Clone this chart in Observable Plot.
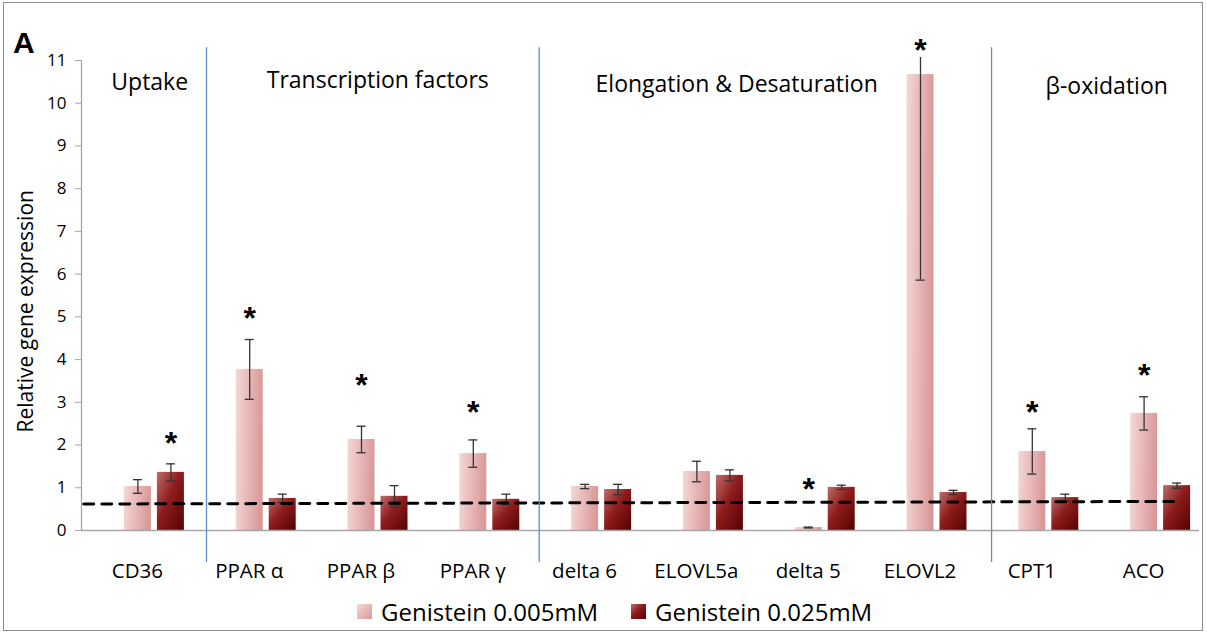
<!DOCTYPE html>
<html><head><meta charset="utf-8">
<script src="https://cdn.jsdelivr.net/npm/d3@7"></script>
<script src="https://cdn.jsdelivr.net/npm/@observablehq/plot@0.6"></script>
<style>
body{margin:0;background:#fff;font-family:"Open Sans",sans-serif;}
#frame{position:absolute;left:3px;top:2px;width:1200px;height:629px;border:1px solid #8c8c8c;box-sizing:border-box;}
#chart{position:absolute;left:0;top:0;}
#panel{position:absolute;left:13px;top:26px;font:bold 30px "Liberation Sans",Arial,sans-serif;color:#000;}
.key{position:absolute;top:595px;display:flex;align-items:center;font-size:24px;color:#000;white-space:nowrap;}
.sw{width:15px;height:15px;margin-right:9px;}
</style></head><body>
<div id="frame"></div>
<div id="chart"></div>
<div id="panel">A</div>
<div id="legend"></div>
<script>
// ---- data ----
const categories = ["CD36","PPAR α","PPAR β","PPAR γ","delta 6","ELOVL5a","delta 5","ELOVL2","CPT1","ACO"];
const series = ["Genistein 0.005mM","Genistein 0.025mM"];
const lowDose = [1.03,3.77,2.13,1.80,1.03,1.38,0.07,10.67,1.85,2.74];
const lowDoseErr = [0.16,0.70,0.31,0.32,0.05,0.24,0.01,4.81,0.53,0.39];
const highDose = [1.36,0.75,0.80,0.73,0.96,1.29,1.01,0.89,0.77,1.05];
const highDoseErr = [0.20,0.10,0.25,0.12,0.12,0.13,0.05,0.05,0.08,0.06];
const starCategory = [0,1,2,3,6,7,8,9];
const starSeries = [1,0,0,0,0,0,0,0];
const starY = [2.2,5.11,3.55,2.93,1.12,11.4,2.93,3.78];
const sections = ["Uptake","Transcription factors","Elongation & Desaturation","β-oxidation"];
const sectionX = [0.61,2.65,5.86,9.17];
const sectionY = [10.49,10.53,10.44,10.39];
const dividerX = [1.118,4.094,8.14];
const refLineX = [0.02,9.785];
const refLineY = [0.62,0.68];
const yTicks = d3.range(0,12);
const yTitle = "Relative gene expression";

// ---- layout ----
const W = 1207, H = 590;
const U = 111.8;               // px per category
const BAR_W = 27/U, CAP = 4.5/U;
const OFF = [-13/U, 20/U];     // bar left edge offset from category center
const colors = ["url(#gLight)","url(#gDark)"];

const rows = [];
categories.forEach((c,i)=>{
  [lowDose, highDose].forEach((arr,s)=>{
    const e = (s===0?lowDoseErr:highDoseErr)[i];
    const x1 = i+0.5+OFF[s];
    rows.push({cat:c, s, v:arr[i], e, x1, x2:x1+BAR_W, xc:x1+BAR_W/2});
  });
});
const stars = starCategory.map((ci,k)=>{
  const x1 = ci+0.5+OFF[starSeries[k]];
  return {x:x1+BAR_W/2, y:starY[k]};
});

const chart = Plot.plot({
  width: W, height: H,
  marginLeft: 81, marginRight: 8, marginTop: 57, marginBottom: H-530,
  style: {fontFamily: '"Open Sans", sans-serif', fontSize: "17px", color:"#000", background:"transparent"},
  x: {domain:[0,10], axis:null},
  y: {domain:[0,11.07], axis:null},
  marks: [
    Plot.rectY(rows, {x1:"x1", x2:"x2", y1:0, y2:"v", fill:d=>d.s===0?colors[0]:colors[1]}),
    Plot.ruleY([0], {stroke:"#a6a6a6", strokeWidth:1.3}),
    Plot.ruleX([0], {y1:0, y2:11, stroke:"#a6a6a6", strokeWidth:1.3}),
    Plot.axisY({ticks:yTicks, tickSize:6, tickPadding:9, fontSize:17, stroke:"#a6a6a6", fill:"#000", label:null}),
    Plot.axisX({ticks:categories.map((_,i)=>i+0.5), tickFormat:d=>categories[Math.round(d-0.5)], tickSize:0, tickPadding:33, fontSize:20.5, fill:"#000", label:null}),
    Plot.ruleX(rows, {x:"xc", y1:d=>d.v-d.e, y2:d=>d.v+d.e, stroke:"#333", strokeWidth:1.3, clip:true}),
    Plot.ruleY(rows, {y:d=>d.v+d.e, x1:d=>d.xc-CAP, x2:d=>d.xc+CAP, stroke:"#333", strokeWidth:1.3, clip:true}),
    Plot.ruleY(rows, {y:d=>d.v-d.e, x1:d=>d.xc-CAP, x2:d=>d.xc+CAP, stroke:"#333", strokeWidth:1.3, clip:true}),
    Plot.line(refLineX.map((xv,k)=>({x:xv,y:refLineY[k]})), {x:"x", y:"y", stroke:"#000", strokeWidth:3, strokeDasharray:"10,8"}),
    Plot.ruleX(dividerX, {y1:11.3, y2:-0.75, stroke:"#5b8fd0", strokeWidth:1.3}),
    Plot.text(sections, {x:sectionX, y:sectionY, text:d=>d, fontSize:23, fill:"#000"}),
    Plot.text(stars, {x:"x", y:"y", text:()=>"*", fontSize:32, fontWeight:"bold", fontFamily:"Liberation Sans", dy:7, fill:"#000"}),
    Plot.text([yTitle], {x:-0.492, y:5.13, text:d=>d, rotate:-90, fontSize:21, fill:"#000"})
  ]
});
document.getElementById("chart").appendChild(chart);

// gradients
const svg = d3.select(chart);
const defs = svg.insert("defs", ":first-child");
const gl = defs.append("linearGradient").attr("id","gLight").attr("x1","0").attr("y1","0").attr("x2","1").attr("y2","0.1");
gl.append("stop").attr("offset","0").attr("stop-color","#f4d8d7");
gl.append("stop").attr("offset","1").attr("stop-color","#da9898");
const gd = defs.append("linearGradient").attr("id","gDark").attr("x1","0").attr("y1","0").attr("x2","1").attr("y2","1");
gd.append("stop").attr("offset","0").attr("stop-color","#bb6e6c");
gd.append("stop").attr("offset","0.45").attr("stop-color","#8e1c1c");
gd.append("stop").attr("offset","1").attr("stop-color","#560000");

// legend
const lg = document.getElementById("legend");
const legendLeft = [357, 631];
series.forEach((s,k)=>{
  const d = document.createElement("div"); d.className="key"; d.style.left = legendLeft[k]+"px";
  const sw = document.createElement("div"); sw.className="sw";
  sw.style.background = k===0 ? "linear-gradient(135deg,#f4d8d7,#da9898)" : "linear-gradient(135deg,#bb6e6c,#8e1c1c 45%,#560000)";
  const t = document.createElement("span"); t.textContent = s;
  d.appendChild(sw); d.appendChild(t); lg.appendChild(d);
});
</script>
</body></html>
